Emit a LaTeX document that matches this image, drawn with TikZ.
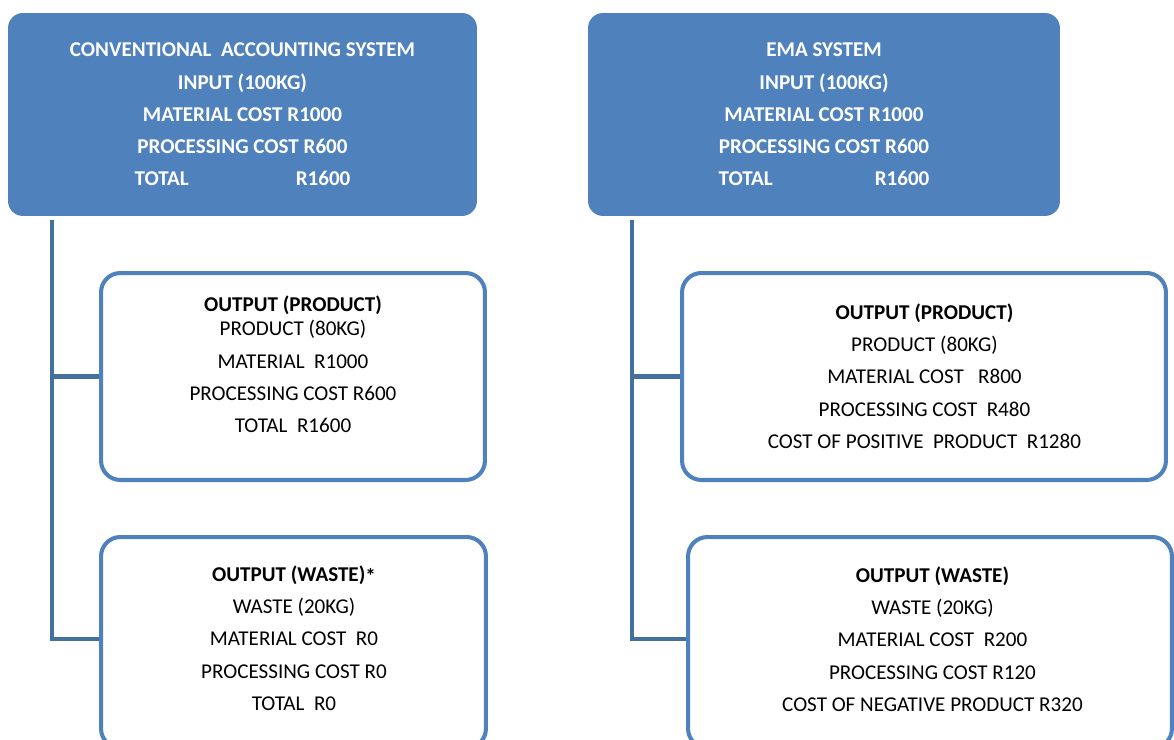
\documentclass[tikz,border=0pt]{standalone}
\usepackage{fontspec}
\setmainfont{Carlito}
\usepackage{tikz}
\definecolor{boxblue}{HTML}{4F81BD}
\definecolor{lineblue}{HTML}{41719C}
\tikzstyle{basefont}=[font=\fontsize{12}{18.4}\selectfont]
\tikzstyle{topbox}=[rounded corners=8.5pt, fill=boxblue, text=white, font=\fontsize{12}{18.4}\selectfont\bfseries, align=center, minimum height=4.06cm, inner sep=0pt]
\tikzstyle{outbox}=[rounded corners=11pt, draw=boxblue, line width=2.3pt, fill=white, minimum height=4.14cm, inner sep=0pt]
\tikzstyle{boxtext}=[basefont, align=center, inner sep=0pt]
\tikzstyle{trunk}=[-, draw=lineblue, line width=2.4pt]

\begin{document}
\begin{tikzpicture}[x=0.02cm, y=-0.02cm]
  \clip (0,0) rectangle (1174,740);
  % top boxes
  \node [style=topbox, minimum width=9.38cm] (ltop) at (242.5, 114.5) {CONVENTIONAL\ \ ACCOUNTING SYSTEM\\ INPUT (100KG)\\ MATERIAL COST R1000\\ PROCESSING COST R600\\ TOTAL\hspace{2.14cm}R1600};
  \node [style=topbox, minimum width=9.44cm] (rtop) at (824, 114.5) {EMA SYSTEM\\ INPUT (100KG)\\ MATERIAL COST R1000\\ PROCESSING COST R600\\ TOTAL\hspace{2.04cm}R1600};
  % output boxes
  \node [style=outbox, minimum width=7.68cm] (lprod) at (293, 376.5) {};
  \node [style=outbox, minimum width=7.7cm, minimum height=4.22cm] (lwaste) at (293.5, 642.5) {};
  \node [style=outbox, minimum width=9.68cm] (rprod) at (924, 376.5) {};
  \node [style=outbox, minimum width=9.68cm, minimum height=4.22cm] (rwaste) at (930, 642.5) {};
  \node [style=boxtext] (lprodtxt) at (293, 364.5) {\textbf{OUTPUT (PRODUCT)}\\[-4.8pt] PRODUCT (80KG)\\ MATERIAL\ \ R1000\\ PROCESSING COST R600\\ TOTAL\ \ R1600};
  \node [style=boxtext] (lwastetxt) at (294, 638) {\textbf{OUTPUT (WASTE)}\raisebox{-1.5pt}{\textbf{*}}\\ WASTE (20KG)\\ MATERIAL COST\ \ R0\\ PROCESSING COST R0\\ TOTAL\ \ R0};
  \node [style=boxtext] (rprodtxt) at (924.5, 376) {\textbf{OUTPUT (PRODUCT)}\\ PRODUCT (80KG)\\ MATERIAL COST\ \ \ R800\\ PROCESSING COST\ \ R480\\ COST OF POSITIVE\ \ PRODUCT\ \ R1280};
  \node [style=boxtext] (rwastetxt) at (932.5, 639) {\textbf{OUTPUT (WASTE)}\\ WASTE (20KG)\\ MATERIAL COST\ \ R200\\ PROCESSING COST R120\\ COST OF NEGATIVE PRODUCT R320};
  % connectors
  \coordinate (lbend) at (52, 639);
  \coordinate (rbend) at (632, 639);
  \draw [style=trunk] ([yshift=-2pt]ltop.south -| lbend) to (lbend) to (lwaste.west |- lbend);
  \draw [style=trunk] (lprod.west -| lbend) to (lprod.west);
  \draw [style=trunk] ([yshift=-2pt]rtop.south -| rbend) to (rbend) to (rwaste.west |- rbend);
  \draw [style=trunk] (rprod.west -| rbend) to (rprod.west);
\end{tikzpicture}
\end{document}
